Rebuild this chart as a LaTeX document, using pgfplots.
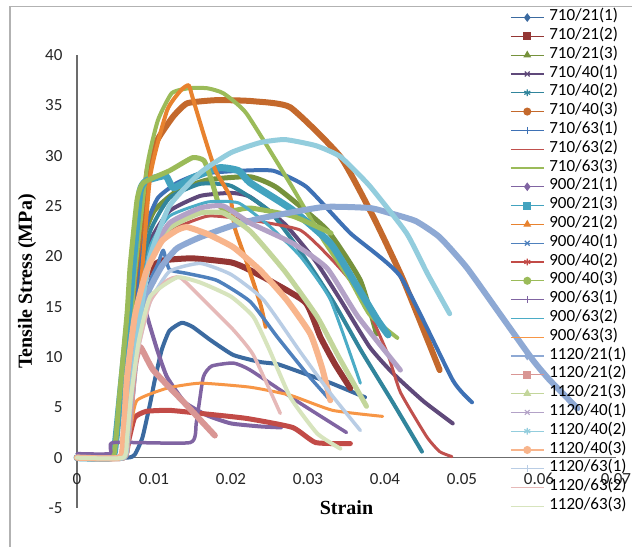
\documentclass[border=0pt]{standalone}
\usepackage{fontspec}
\setmainfont{Carlito}
\newfontfamily\tnr{Liberation Serif}
\usepackage{pgfplots}
\pgfplotsset{compat=1.18}

% series colours, in legend order
\definecolor{c1}{HTML}{3B6AA0}
\definecolor{c2}{HTML}{943634}
\definecolor{c3}{HTML}{76923C}
\definecolor{c4}{HTML}{5F497A}
\definecolor{c5}{HTML}{31859C}
\definecolor{c6}{HTML}{C4692C}
\definecolor{c7}{HTML}{3E71B5}
\definecolor{c8}{HTML}{C0504D}
\definecolor{c9}{HTML}{9BBB59}
\definecolor{c10}{HTML}{8064A2}
\definecolor{c11}{HTML}{43A3BF}
\definecolor{c12}{HTML}{E8822E}
\definecolor{c13}{HTML}{4F81BD}
\definecolor{c14}{HTML}{C24B47}
\definecolor{c15}{HTML}{9BBB59}
\definecolor{c16}{HTML}{8064A2}
\definecolor{c17}{HTML}{4BACC6}
\definecolor{c18}{HTML}{F79646}
\definecolor{c19}{HTML}{8EA9D4}
\definecolor{c20}{HTML}{D99694}
\definecolor{c21}{HTML}{C3D69B}
\definecolor{c22}{HTML}{B3A2C7}
\definecolor{c23}{HTML}{93CDDD}
\definecolor{c24}{HTML}{F8B58C}
\definecolor{c25}{HTML}{B9CDE5}
\definecolor{c26}{HTML}{E6B9B8}
\definecolor{c27}{HTML}{D7E4BD}

\begin{document}
\begin{tikzpicture}
\useasboundingbox (0,0) rectangle (632bp,547bp);
\fill[white] (0,0) rectangle (632bp,547bp);
\draw[gray!60, line width=1.2bp] (10bp,-5bp) -- (10bp,540.3bp) -- (640bp,540.3bp);
\begin{axis}[
    at={(77bp,39bp)}, anchor=south west,
    width=539bp, height=453bp, scale only axis,
    xmin=0, xmax=0.07, ymin=-5, ymax=40,
    axis x line*=middle, axis y line*=left,
    hide obscured x ticks=false, hide obscured y ticks=false,
    axis line style={draw=gray!85!black, line width=1.3bp},
    xtick={0,0.01,0.02,0.03,0.04,0.05,0.06,0.07},
    ytick={-5,0,5,10,15,20,25,30,35,40},
    major tick length=0pt,
    scaled x ticks=false,
    xticklabel={\pgfmathprintnumber[fixed,precision=2]{\tick}},
    /pgf/number format/assume math mode=true,
    tick label style={font=\fontsize{17bp}{20bp}\selectfont, text=black!85},
    xticklabel style={yshift=-12bp},
    yticklabel style={xshift=-11bp},
    clip=false,
    crv/.style={smooth, tension=0.3, line join=round, line cap=round, mark=none, forget plot},
    leg/.style={line width=1.2bp, mark size=3.4bp, mark options={solid}},
    legend image code/.code={\draw[mark repeat=2,mark phase=2,#1] plot coordinates {(0bp,0bp) (16.5bp,0bp) (33bp,0bp)};},
    legend cell align=left,
    legend style={at={(0.8033,1.1038)}, anchor=north west, draw=none, fill=none,
        font=\fontsize{17bp}{17bp}\selectfont, row sep=0pt, column sep=5bp, inner sep=0pt,
        nodes={inner sep=0pt, text height=12.5bp, text depth=6.3bp}},
]
\addlegendimage{leg, c1, mark=diamond*}\addlegendentry{710/21(1)}
\addlegendimage{leg, c2, mark=square*}\addlegendentry{710/21(2)}
\addlegendimage{leg, c3, mark=triangle*}\addlegendentry{710/21(3)}
\addlegendimage{leg, c4, mark=x}\addlegendentry{710/40(1)}
\addlegendimage{leg, c5, mark=asterisk}\addlegendentry{710/40(2)}
\addlegendimage{leg, c6, mark=*}\addlegendentry{710/40(3)}
\addlegendimage{leg, c7, mark=+}\addlegendentry{710/63(1)}
\addlegendimage{leg, c8, mark=-}\addlegendentry{710/63(2)}
\addlegendimage{leg, c9, mark=-}\addlegendentry{710/63(3)}
\addlegendimage{leg, c10, mark=diamond*}\addlegendentry{900/21(1)}
\addlegendimage{leg, c11, mark=square*}\addlegendentry{900/21(3)}
\addlegendimage{leg, c12, mark=triangle*}\addlegendentry{900/21(2)}
\addlegendimage{leg, c13, mark=x}\addlegendentry{900/40(1)}
\addlegendimage{leg, c14, mark=asterisk}\addlegendentry{900/40(2)}
\addlegendimage{leg, c15, mark=*}\addlegendentry{900/40(3)}
\addlegendimage{leg, c16, mark=+}\addlegendentry{900/63(1)}
\addlegendimage{leg, c17, mark=-}\addlegendentry{900/63(2)}
\addlegendimage{leg, c18, mark=-}\addlegendentry{900/63(3)}
\addlegendimage{leg, c19, mark=diamond*}\addlegendentry{1120/21(1)}
\addlegendimage{leg, c20, mark=square*}\addlegendentry{1120/21(2)}
\addlegendimage{leg, c21, mark=triangle*}\addlegendentry{1120/21(3)}
\addlegendimage{leg, c22, mark=x}\addlegendentry{1120/40(1)}
\addlegendimage{leg, c23, mark=asterisk}\addlegendentry{1120/40(2)}
\addlegendimage{leg, c24, mark=*}\addlegendentry{1120/40(3)}
\addlegendimage{leg, c25, mark=+}\addlegendentry{1120/63(1)}
\addlegendimage{leg, c26, mark=-}\addlegendentry{1120/63(2)}
\addlegendimage{leg, c27, mark=-}\addlegendentry{1120/63(3)}

% 710/21(1)
\addplot[crv, c1, line width=4bp] coordinates {
(0,0) (0.0065,0) (0.0075,0.3) (0.0085,2) (0.0095,5.4) (0.0101,7.7) (0.011,10.7) (0.012,12.6) (0.0136,13.4) (0.015,13) (0.0173,11.7) (0.0203,10.2) (0.0238,9.5) (0.026,9.3) (0.029,8.5) (0.033,7.4) (0.0374,6.0)};
% 710/21(2)
\addplot[crv, c2, line width=6bp] coordinates {
(0,0) (0.0055,0) (0.006,1) (0.0065,4) (0.0075,12) (0.0085,17) (0.0098,19) (0.0112,19.6) (0.015,19.8) (0.02,19.4) (0.022,18.8) (0.025,17.6) (0.0297,15.4) (0.0316,12) (0.0335,9.3) (0.0355,6.9)};
% 710/21(3)
\addplot[crv, c3, line width=5bp] coordinates {
(0,0) (0.0055,0) (0.006,1.5) (0.0065,6) (0.0075,16) (0.0085,21.5) (0.01,24.5) (0.013,26.5) (0.017,27.6) (0.0225,27.9) (0.026,26.8) (0.0325,22.6) (0.0368,17.6) (0.0389,12.3)};
% 710/40(1)
\addplot[crv, c4, line width=4bp] coordinates {
(0,0) (0.006,0) (0.0065,2) (0.007,8) (0.008,16) (0.0095,21.5) (0.012,24.5) (0.016,26) (0.02,26.3) (0.0225,25.9) (0.027,23.2) (0.031,19.5) (0.0342,15.7) (0.038,11) (0.041,8.4) (0.045,5.6) (0.0488,3.4)};
% 710/40(2)
\addplot[crv, c5, line width=4bp] coordinates {
(0,0) (0.006,0) (0.0065,2.5) (0.007,9) (0.008,17) (0.0095,22.5) (0.012,25.8) (0.016,27.2) (0.02,27) (0.025,24.5) (0.029,20.5) (0.0332,15.6) (0.037,10.5) (0.041,5.5) (0.0448,0.6)};
% 710/40(3)
\addplot[crv, c6, line width=6bp] coordinates {
(0,0) (0.006,0) (0.0065,1.5) (0.007,6) (0.008,17) (0.0091,28.2) (0.0104,31.5) (0.0125,33.9) (0.0143,35.2) (0.0177,35.5) (0.0203,35.5) (0.023,35.4) (0.0277,34.8) (0.0342,29.9) (0.0385,23.9) (0.0424,17.6) (0.0471,8.7)};
% 710/63(1)
\addplot[crv, c7, line width=4bp] coordinates {
(0,0) (0.006,0) (0.0065,2) (0.007,8) (0.008,17) (0.009,23) (0.0105,25.8) (0.013,27.3) (0.016,28.2) (0.0212,28.5) (0.0255,28.5) (0.0298,26.9) (0.0355,22.3) (0.042,18) (0.0488,7.7) (0.0513,5.5)};
% 710/63(2)
\addplot[crv, c8, line width=3bp] coordinates {
(0,0) (0.006,0) (0.0065,2) (0.007,8) (0.008,15) (0.0095,20) (0.012,22.5) (0.017,24) (0.0225,23.6) (0.029,22.6) (0.0332,19.6) (0.0368,16.3) (0.0403,10.4) (0.042,6.5) (0.0454,2.1) (0.0471,0.6) (0.0487,0.1)};
% 710/63(3)
\addplot[crv, c9, line width=4bp] coordinates {
(0,0) (0.0055,0) (0.006,2) (0.0065,8) (0.0075,18) (0.0091,28.9) (0.0105,33.5) (0.0123,36.2) (0.0145,36.7) (0.0169,36.7) (0.019,36.2) (0.022,34.2) (0.0277,27.2) (0.032,21.6) (0.0355,17.6) (0.038,14.2) (0.0416,11.9)};
% 900/21(1)
\addplot[crv, c10, line width=4bp] coordinates {
(0,0) (0.006,0) (0.0065,1) (0.007,4) (0.0077,10) (0.0083,14) (0.0087,15) (0.0095,13) (0.0105,10.5) (0.0117,8) (0.014,5.5) (0.0169,4.2) (0.02,3.4) (0.0238,3.1) (0.0265,3.0)};
% 900/21(3)
\addplot[crv, c11, line width=7bp] coordinates {
(0,0) (0.0045,0) (0.005,1.5) (0.0056,6) (0.0065,12.7) (0.0075,21) (0.0082,26.5) (0.009,27.5) (0.0115,28) (0.0125,26.8) (0.015,27.8) (0.0185,28.8) (0.021,28.5) (0.0225,27.3) (0.028,24.6) (0.0329,21.3) (0.036,17.5) (0.039,13.7) (0.0404,12.2)};
% 900/21(2)
\addplot[crv, c12, line width=4bp] coordinates {
(0,0) (0.006,0) (0.0065,1.5) (0.007,5) (0.008,14) (0.0095,27.9) (0.0117,34.5) (0.0135,36.5) (0.0145,37) (0.015,35.8) (0.0165,32) (0.018,28.5) (0.0199,25.9) (0.0205,22.8) (0.022,19.5) (0.0238,15.3) (0.0245,13)};
% 900/40(1)
\addplot[crv, c13, line width=3.5bp] coordinates {
(0,0) (0.006,0) (0.0065,2) (0.007,6) (0.008,12) (0.0095,17.5) (0.0105,19.2) (0.0112,20.6) (0.012,18.7) (0.0143,18.3) (0.0182,17.6) (0.0225,15.5) (0.026,12) (0.03,8.2) (0.0329,5.7)};
% 900/40(2)
\addplot[crv, c14, line width=5bp] coordinates {
(0,0) (0.006,0) (0.0068,2) (0.0075,4) (0.009,4.6) (0.012,4.7) (0.016,4.4) (0.022,3.9) (0.028,3.0) (0.031,1.5) (0.0355,1.4)};
% 900/40(3)
\addplot[crv, c15, line width=5bp] coordinates {
(0,0) (0.0045,0) (0.005,1.5) (0.0055,6) (0.0065,14.3) (0.0069,19) (0.0078,25.6) (0.0086,27.3) (0.012,28.5) (0.015,29.8) (0.0165,29.5) (0.0175,27.5) (0.0185,25) (0.02,24.5) (0.0225,24.8) (0.028,24) (0.033,22.3)};
% 900/63(1)
\addplot[crv, c16, line width=3.5bp] coordinates {
(0,0.4) (0.0043,0.4) (0.0047,1.5) (0.0147,1.5) (0.0155,3.5) (0.0164,8) (0.0175,9.1) (0.0203,9.4) (0.0225,8.7) (0.029,5.4) (0.035,2.5)};
% 900/63(2)
\addplot[crv, c17, line width=3bp] coordinates {
(0,0) (0.006,0) (0.0065,2) (0.007,8) (0.008,15) (0.0095,21) (0.012,24) (0.017,25.4) (0.021,25.3) (0.025,23) (0.029,20) (0.0329,15.7) (0.0368,7.4)};
% 900/63(3)
\addplot[crv, c18, line width=3bp] coordinates {
(0,0) (0.006,0) (0.0065,1) (0.007,3) (0.0078,5.7) (0.0117,6.9) (0.016,7.4) (0.0225,7.0) (0.0277,6.2) (0.0332,4.7) (0.0397,4.1)};
% 1120/21(1)
\addplot[crv, c19, line width=6bp] coordinates {
(0,0) (0.006,0) (0.0065,1.5) (0.007,5) (0.0078,11) (0.009,16) (0.011,19) (0.013,20.8) (0.016,21.9) (0.02,23) (0.024,23.8) (0.032,24.9) (0.038,24.8) (0.0406,24.3) (0.044,23.5) (0.0471,21.9) (0.0506,18.9) (0.0549,14.3) (0.0592,9.7) (0.0614,7.7) (0.065,4.9)};
% 1120/21(2)
\addplot[crv, c20, line width=6bp] coordinates {
(0,0) (0.006,0) (0.0065,1.5) (0.007,5) (0.0075,9) (0.0082,11) (0.0099,8.7) (0.014,5.4) (0.0179,2.2)};
% 1120/21(3)
\addplot[crv, c21, line width=5bp] coordinates {
(0,0) (0.006,0) (0.0065,2) (0.007,7) (0.008,14) (0.0095,19.5) (0.012,22.8) (0.016,24.3) (0.019,24.3) (0.0225,22.5) (0.027,18.5) (0.0312,14) (0.034,10) (0.0376,5.1)};
% 1120/40(1)
\addplot[crv, c22, line width=5bp] coordinates {
(0,0) (0.006,0) (0.0065,2) (0.007,7) (0.008,14) (0.0095,20) (0.012,23.3) (0.016,24.8) (0.019,25) (0.0225,23.3) (0.028,21.3) (0.0325,18.8) (0.0365,14) (0.042,8.7)};
% 1120/40(2)
\addplot[crv, c23, line width=5bp] coordinates {
(0,0) (0.006,0) (0.0065,2) (0.007,6) (0.008,13) (0.0095,20) (0.012,25) (0.016,28.3) (0.02,30.3) (0.0238,31.3) (0.027,31.6) (0.031,31) (0.0342,29.9) (0.038,27) (0.0428,22.3) (0.0455,18.3) (0.0484,14.3)};
% 1120/40(3)
\addplot[crv, c24, line width=6bp] coordinates {
(0,0) (0.0055,0) (0.006,2) (0.0065,8) (0.0075,14) (0.009,18.5) (0.011,21.5) (0.013,22.6) (0.0143,22.9) (0.017,22.2) (0.0203,20.9) (0.0238,18.6) (0.0272,15.7) (0.0303,12.3) (0.0318,9) (0.0329,5.7)};
% 1120/63(1)
\addplot[crv, c25, line width=3.5bp] coordinates {
(0,0) (0.006,0) (0.0065,2) (0.007,6) (0.008,11) (0.0095,15.5) (0.012,18.5) (0.016,19.3) (0.02,18.2) (0.0242,15.7) (0.029,10.5) (0.033,6.3) (0.0368,2.7)};
% 1120/63(2)
\addplot[crv, c26, line width=3.5bp] coordinates {
(0,0) (0.006,0) (0.0065,2) (0.007,6) (0.008,11) (0.0095,15.5) (0.0115,17.5) (0.0134,17.9) (0.0173,15) (0.0203,12.7) (0.0229,10.2) (0.0264,4.4)};
% 1120/63(3)
\addplot[crv, c27, line width=4bp] coordinates {
(0,0) (0.006,0) (0.0065,2) (0.007,6) (0.008,11.5) (0.0095,16) (0.013,17.9) (0.016,17.4) (0.02,16) (0.0229,14) (0.025,10.7) (0.0277,6) (0.0312,2.4) (0.0342,0.9)};

\node[font=\tnr\bfseries\fontsize{20bp}{24bp}\selectfont, rotate=90] at (axis cs:-0.0065,17.5) {Tensile Stress (MPa)};
\node[font=\tnr\bfseries\fontsize{20bp}{24bp}\selectfont] at (axis cs:0.035,-5) {Strain};
\end{axis}
\end{tikzpicture}
\end{document}
